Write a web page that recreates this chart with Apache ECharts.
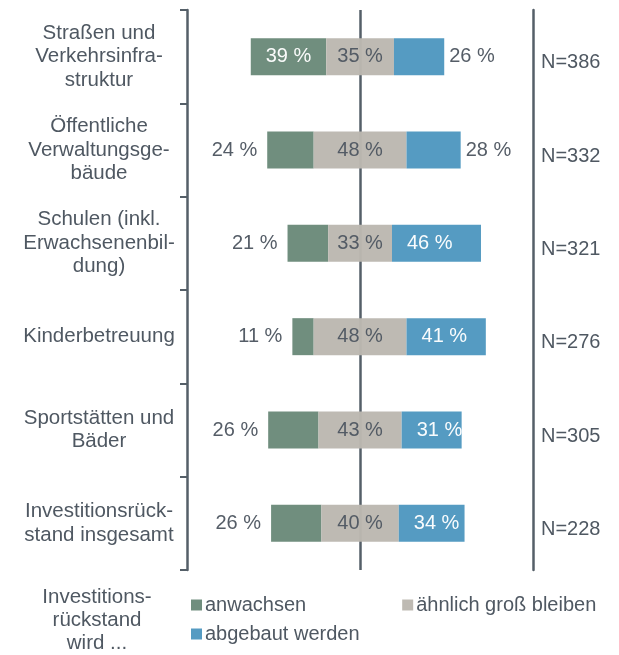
<!DOCTYPE html>
<html>
<head>
<meta charset="utf-8">
<script src="https://cdn.jsdelivr.net/npm/echarts@6/dist/echarts.min.js"></script>
<style>
    html, body { margin: 0; padding: 0; background: #fff; }
    #chart { width: 619px; height: 655px; }
</style>
</head>
<body>
<div id="chart"></div>
<script>
// Daten
var categories = [
    'Straßen und\nVerkehrsinfra-\nstruktur',
    'Öffentliche\nVerwaltungsge-\nbäude',
    'Schulen (inkl.\nErwachsenenbil-\ndung)',
    'Kinderbetreuung',
    'Sportstätten und\nBäder',
    'Investitionsrück-\nstand insgesamt'
];
var nValues = [386, 332, 321, 276, 305, 228];
var anwachsen = [39, 24, 21, 11, 26, 26];
var gleich = [35, 48, 33, 48, 43, 40];
var abgebaut = [26, 28, 46, 41, 31, 34];

var CENTER = 60; // mitte der grauen balken auf der achse
var textColor = '#4f5862';
var lineColor = '#555f68';
var font = 'Liberation Sans, Arial, sans-serif';

// unsichtbarer versatz, damit "ähnlich groß bleiben" um die mittellinie liegt
var offset = [];
for (var i = 0; i < anwachsen.length; i++) {
    offset.push(CENTER - anwachsen[i] - gleich[i] / 2);
}

var greenData = anwachsen.map(function (v) {
    var inside = v >= 30;
    return {
        value: v,
        label: inside
            ? { position: 'inside', color: '#fff' }
            : { position: 'left', distance: 10, color: textColor }
    };
});
var blueData = abgebaut.map(function (v) {
    var inside = v >= 30;
    return {
        value: v,
        label: inside
            ? { position: 'insideLeft', distance: 15, color: '#fff' }
            : { position: 'right', distance: 5, color: textColor }
    };
});

var labelBase = {
    show: true,
    fontSize: 20,
    fontFamily: font,
    formatter: '{c} %'
};

var option = {
    backgroundColor: '#fff',
    animation: false,
    textStyle: { fontFamily: font },
    grid: { left: 244, right: 123.5, top: 10, bottom: 85, containLabel: false },
    xAxis: {
        type: 'value', min: 0, max: 130, show: false
    },
    yAxis: [{
        type: 'category',
        data: categories,
        inverse: true,
        position: 'left',
        offset: 57,
        axisLine: { show: true, onZero: false, lineStyle: { color: lineColor, width: 2.5 } },
        axisTick: { show: true, inside: false, length: 7, lineStyle: { color: lineColor, width: 2 } },
        axisLabel: {
            margin: 88, align: 'center', fontSize: 20.5, lineHeight: 23.5,
            color: textColor, fontFamily: font
        }
    }, {
        type: 'category',
        data: nValues,
        inverse: true,
        position: 'right',
        offset: 37.5,
        axisLine: { show: true, onZero: false, lineStyle: { color: lineColor, width: 2.5 } },
        axisTick: { show: false },
        axisLabel: {
            margin: 8, align: 'left',
            formatter: function (v) { return '{n|N=' + v + '}'; },
            rich: {
                n: { fontSize: 20, color: textColor, fontFamily: font, padding: [12, 0, 0, 0] }
            }
        }
    }],
    legend: [{
        data: ['anwachsen', 'ähnlich groß bleiben'],
        left: 186, top: 590,
        icon: 'rect', itemWidth: 11, itemHeight: 11, itemGap: 96,
        textStyle: { fontSize: 20, color: textColor, fontFamily: font, padding: [0, 0, 0, -2] }
    }, {
        data: ['abgebaut werden'],
        left: 186, top: 619,
        icon: 'rect', itemWidth: 11, itemHeight: 11,
        textStyle: { fontSize: 20, color: textColor, fontFamily: font, padding: [0, 0, 0, -2] }
    }],
    graphic: [{
        type: 'text',
        x: 97, y: 586,
        style: {
            text: 'Investitions-\nrückstand\nwird ...',
            textAlign: 'center',
            fontSize: 20.5,
            lineHeight: 23,
            fill: textColor,
            fontFamily: font
        }
    }],
    series: [{
        name: 'offset',
        type: 'bar',
        stack: 'a',
        barWidth: 37,
        z: 1,
        silent: true,
        itemStyle: { color: 'transparent' },
        data: offset,
        markLine: {
            z: 1,
            silent: true,
            symbol: 'none',
            label: { show: false },
            lineStyle: { color: lineColor, width: 2.5, type: 'solid' },
            data: [{ xAxis: CENTER }]
        }
    }, {
        name: 'anwachsen',
        type: 'bar',
        stack: 'a',
        z: 2,
        itemStyle: { color: '#6b8a7a', opacity: 0.97 },
        label: labelBase,
        data: greenData
    }, {
        name: 'ähnlich groß bleiben',
        type: 'bar',
        stack: 'a',
        z: 2,
        itemStyle: { color: '#bcb8b1', opacity: 0.97 },
        label: Object.assign({}, labelBase, { position: 'inside', color: textColor }),
        data: gleich
    }, {
        name: 'abgebaut werden',
        type: 'bar',
        stack: 'a',
        z: 2,
        itemStyle: { color: '#4f98c0', opacity: 0.97 },
        label: labelBase,
        data: blueData
    }]
};

var myChart = echarts.init(document.getElementById('chart'));
myChart.setOption(option);
</script>
</body>
</html>
